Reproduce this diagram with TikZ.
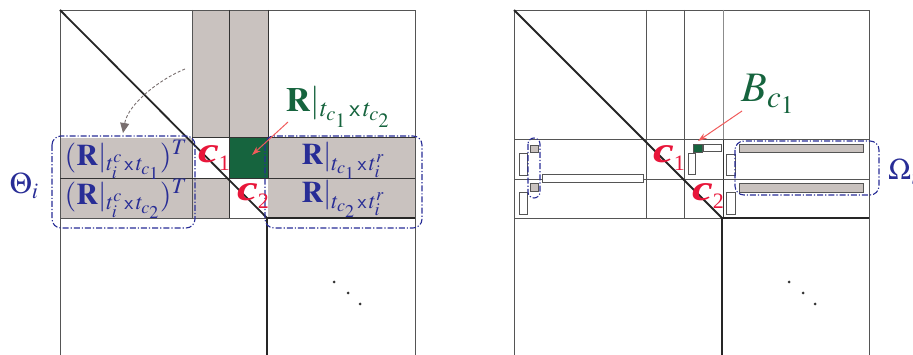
\documentclass[tikz,border=0pt]{standalone}
\usepackage{mathptmx}
\usepackage{fontspec}
\setmainfont{Liberation Serif}
\usetikzlibrary{arrows.meta}
\definecolor{myblue}{RGB}{40,45,150}
\definecolor{mygreen}{RGB}{22,100,62}
\definecolor{myred}{RGB}{232,22,58}
\definecolor{myarrow}{RGB}{240,90,90}
\definecolor{mygray}{RGB}{201,194,191}
\definecolor{myline}{RGB}{85,85,85}
\definecolor{mycurve}{RGB}{120,110,110}
\tikzset{
  frame/.style={draw=myline, line width=0.7pt},
  darkline/.style={draw=black!80, line width=1pt},
  heavy/.style={draw=black!85, line width=1.8pt},
  blueframe/.style={draw=myblue, line width=1.1pt, dash pattern=on 6pt off 2pt on 1.2pt off 2pt, rounded corners=9pt},
  wbox/.style={draw=myline, fill=white, line width=0.7pt},
  gbox/.style={draw=myline, fill=mygray, line width=0.7pt},
  bluetext/.style={text=myblue, font=\fontsize{30}{30}\selectfont, inner sep=0pt},
  greentext/.style={text=mygreen, font=\fontsize{34}{34}\selectfont, inner sep=0pt},
  redtext/.style={text=myred, font=\fontsize{36}{36}\selectfont, inner sep=0pt},
  pointer/.style={draw=myarrow, line width=1pt, -{Stealth[length=9pt,width=6pt]}},
  dotmark/.style={circle, fill=black!80, inner sep=0pt, minimum size=3pt},
}
\newcommand{\redc}[1]{\scalebox{1.3}[1]{\textbf{\textit{c}}}\raisebox{-0.2em}{\fontsize{22}{22}\selectfont #1}}
\begin{document}
\begin{tikzpicture}[x=1pt,y=-1pt]
\useasboundingbox (0,0) rectangle (913,355);

% ================= LEFT PANEL =================
\fill[mygray] (192,10) rectangle (268,138);
\fill[mygray] (60,138) rectangle (192,218);
\fill[mygray] (192,179) rectangle (229,218);
\fill[mygray] (268,138) rectangle (415,218);
\node[fill=mygreen, minimum width=39pt, minimum height=41pt, inner sep=0pt] (g1) at (248.5,158.5) {};

\draw[frame] (60,355) -- (60,10) -- (415,10) -- (415,355);
\draw[frame] (192,10) -- (192,218);
\draw[darkline] (229,10) -- (229,218);
\draw[darkline] (268,10) -- (268,179);
\draw[darkline] (192,138) -- (415,138);
\draw[darkline] (60,179) -- (415,179);
\draw[frame] (60,218) -- (267,218);
\draw[heavy] (267,218) -- (415,218);
\draw[heavy] (60,10) -- (267,218) -- (267,355);

\draw[blueframe] (52,136) rectangle (195,228);
\draw[blueframe] (265,136) rectangle (422,228);

\node[bluetext] (ta) at (126,160) {$(\mathbf{R}|_{t_i^c\,\mathsf{x}\,t_{c_1}})^T$};
\node[bluetext] (tb) at (126,199) {$(\mathbf{R}|_{t_i^c\,\mathsf{x}\,t_{c_2}})^T$};
\node[bluetext] (tc) at (343,161) {$\mathbf{R}|_{t_{c_1}\,\mathsf{x}\,t_i^r}$};
\node[bluetext] (td) at (343,199) {$\mathbf{R}|_{t_{c_2}\,\mathsf{x}\,t_i^r}$};
\node[greentext] (tg) at (338,107) {$\mathbf{R}|_{t_{c_1}\,\mathsf{x}\,t_{c_2}}$};
\node[redtext] (c1a) at (214,158) {\redc{1}};
\node[redtext] (c2a) at (253,196) {\redc{2}};
\node[text=myblue, font=\fontsize{30}{30}\selectfont, inner sep=0pt] (theta) at (24,186) {$\Theta_i$};

\coordinate (ga) at (288,122);
\coordinate (gb) at (252,155);
\draw[pointer] (ga) -- (gb);

\coordinate (ca) at (185,69);
\coordinate (cb) at (123,133);
\draw[draw=mycurve, line width=0.9pt, dash pattern=on 3pt off 2pt, -{Triangle[length=10pt,width=9pt,fill=mycurve]}] (ca) .. controls (160,79) and (128,104) .. (cb);

\node[dotmark] (d1) at (334,282) {};
\node[dotmark] (d2) at (348,293) {};
\node[dotmark] (d3) at (360,304) {};

% ================= RIGHT PANEL =================
\draw[frame] (514,355) -- (514,10) -- (869,10) -- (869,355);
\draw[frame] (646,10) -- (646,218);
\draw[frame] (684,10) -- (684,218);
\draw[draw=black!45, line width=1pt] (723,10) -- (723,139);
\draw[darkline] (723,139) -- (723,218);
\draw[frame] (514,139) -- (869,139);
\draw[frame] (514,179) -- (869,179);
\draw[frame] (514,218) -- (722,218);
\draw[heavy] (722,218) -- (869,218);
\draw[heavy] (514,10) -- (722,218) -- (722,355);

% small blocks
\draw[wbox] (519,153) rectangle (527,175);
\draw[gbox] (530,145) rectangle (538,152);
\draw[wbox] (542,174) rectangle (643,182);
\draw[gbox] (530,183) rectangle (538,191);
\draw[wbox] (519,192) rectangle (527,214);
\node[fill=mygreen, draw=myline, line width=0.5pt, minimum width=9pt, minimum height=8pt, inner sep=0pt] (g2) at (697.5,148) {};
\draw[wbox] (703,144) rectangle (721,151);
\draw[wbox] (688,153) rectangle (695,174);
\draw[wbox] (726,154) rectangle (735,175);
\draw[gbox] (739,144) rectangle (863,152);
\draw[wbox] (726,192) rectangle (735,214);
\draw[gbox] (739,183) rectangle (863,192);

\draw[draw=myblue, line width=1.1pt, dash pattern=on 6pt off 2pt on 1.2pt off 2pt, rounded corners=6pt] (528,138) rectangle (540,198);
\draw[blueframe] (735,141) rectangle (879,195);

\node[redtext] (c1b) at (669,158) {\redc{1}};
\node[redtext] (c2b) at (708,196) {\redc{2}};
\node[text=mygreen, font=\fontsize{42}{42}\selectfont, inner sep=0pt] (tB) at (768,94) {$B_{c_1}$};
\node[text=myblue, font=\fontsize{30}{30}\selectfont, inner sep=0pt, anchor=west] (omega) at (888,172) {$\Omega_i$};

\coordinate (ba) at (742,111);
\coordinate (bb) at (698,141);
\draw[pointer] (ba) -- (bb);

\node[dotmark] (d4) at (789,282) {};
\node[dotmark] (d5) at (803,293) {};
\node[dotmark] (d6) at (815,304) {};
\end{tikzpicture}
\end{document}
